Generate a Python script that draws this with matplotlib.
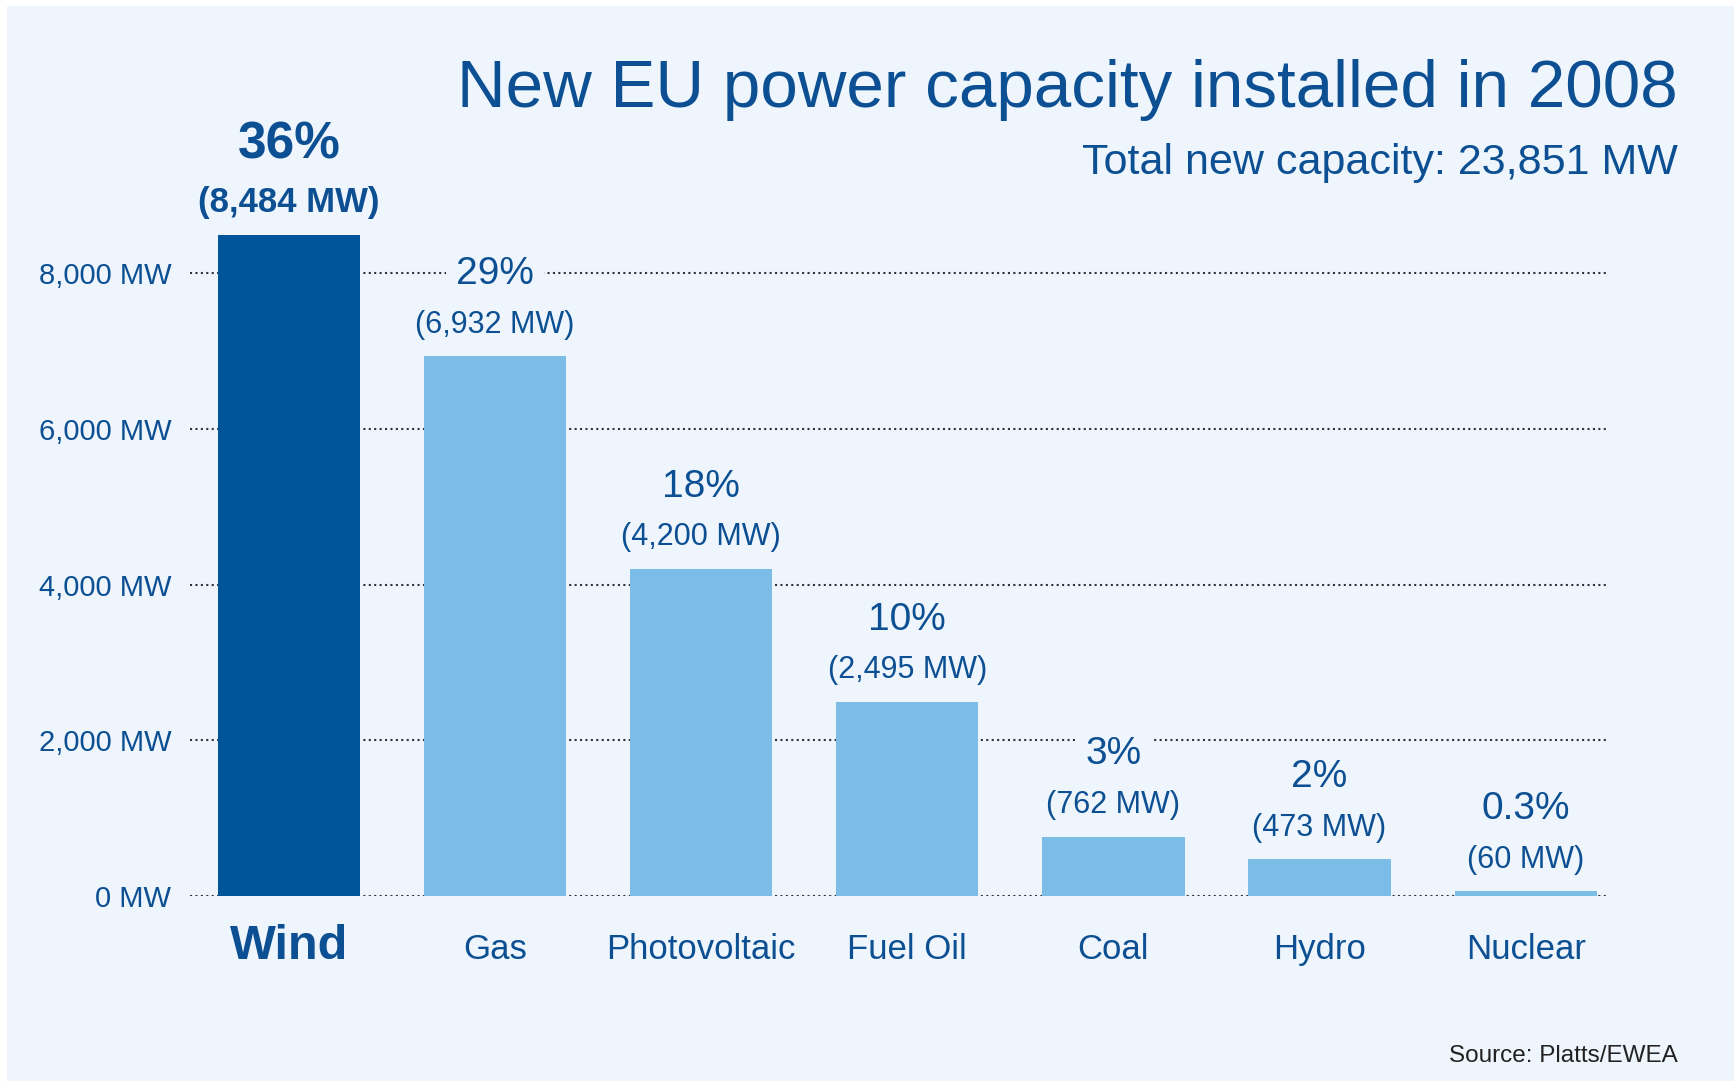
import matplotlib.pyplot as plt
from matplotlib.patches import Rectangle
from matplotlib.ticker import FuncFormatter

# Data: new EU power capacity installed in 2008
sources = ['Wind', 'Gas', 'Photovoltaic', 'Fuel Oil', 'Coal', 'Hydro', 'Nuclear']
capacity_mw = [8484, 6932, 4200, 2495, 762, 473, 60]
share_pct = ['36%', '29%', '18%', '10%', '3%', '2%', '0.3%']

dark_blue = '#00559A'
light_blue = '#7BBDE6'
text_blue = '#0C4F92'
bg = '#EEF5FC'

plt.rcParams['font.family'] = ['Liberation Sans', 'DejaVu Sans']

fig = plt.figure(figsize=(17.34, 10.81), dpi=100, facecolor='white')
fig.patches.append(Rectangle((7 / 1734, 0), 1 - 7 / 1734, 1 - 6 / 1081,
                             transform=fig.transFigure, facecolor=bg,
                             edgecolor='none', zorder=-5))

ax = fig.add_axes([0.1096, 0.1711, 0.8166, 0.6916])
ax.set_facecolor('none')

colors = [dark_blue] + [light_blue] * (len(sources) - 1)
x = range(len(sources))
bars = ax.bar(x, capacity_mw, width=0.69, color=colors, zorder=3)

ax.set_xlim(-0.48, 6.39)
ax.set_ylim(0, 9600)
ax.set_yticks([0, 2000, 4000, 6000, 8000])
ax.yaxis.set_major_formatter(FuncFormatter(lambda v, p: f'{v:,.0f} MW'))
ax.tick_params(axis='y', length=0, pad=13.5, labelsize=21, labelcolor=text_blue)
ax.set_xticks([])
ax.yaxis.grid(True, linestyle=(0, (1, 1.6)), color='#333333', linewidth=1.5, zorder=1)
ax.set_axisbelow(True)
for s in ax.spines.values():
    s.set_visible(False)

# label boxes hide the dotted gridlines behind the text
box = dict(boxstyle='square,pad=0.25', facecolor=bg, edgecolor='none')

# Labels above bars and category names below
for i, (bar, val, pct) in enumerate(zip(bars, capacity_mw, share_pct)):
    top = bar.get_height()
    bold = (i == 0)
    ax.annotate(f'({val:,} MW)', xy=(i, top), xytext=(0, 17), textcoords='offset points',
                ha='center', va='baseline', fontsize=25 if bold else 22,
                fontweight='bold' if bold else 'normal', color=text_blue,
                annotation_clip=False, zorder=4)
    ax.annotate(pct, xy=(i, top), xytext=(0, 55 if bold else 52), textcoords='offset points',
                ha='center', va='baseline', fontsize=37 if bold else 28,
                fontweight='bold' if bold else 'normal', color=text_blue,
                annotation_clip=False, bbox=box, zorder=4)
    ax.annotate(sources[i], xy=(i, 0), xytext=(0, -45.5), textcoords='offset points',
                ha='center', va='baseline', fontsize=35 if bold else 25,
                fontweight='bold' if bold else 'normal', color=text_blue,
                annotation_clip=False)

fig.text(0.9677, 0.901, 'New EU power capacity installed in 2008', ha='right', va='baseline',
         fontsize=48.5, color=text_blue)
fig.text(0.9677, 0.839, 'Total new capacity: 23,851 MW', ha='right', va='baseline',
         fontsize=31, color=text_blue)
fig.text(0.9677, 1 - 1062 / 1081, 'Source: Platts/EWEA', ha='right', va='baseline',
         fontsize=17.5, color='#222222')

fig.savefig('out.png', dpi=100, facecolor=fig.get_facecolor())
